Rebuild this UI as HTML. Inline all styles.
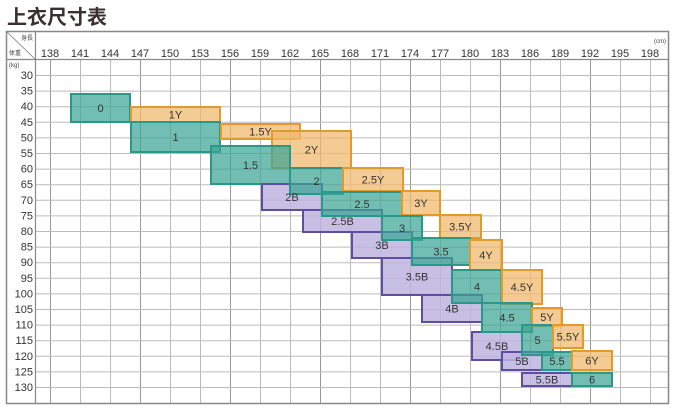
<!DOCTYPE html>
<html><head><meta charset="utf-8"><style>
body{margin:0;background:#fff;}
svg{display:block;font-family:"Liberation Sans","Noto Sans CJK SC",sans-serif;}
</style></head><body>
<svg width="674" height="414" viewBox="0 0 674 414">
<text x="7" y="24" font-size="20" font-weight="bold" fill="#3a3030" font-family="'Noto Sans CJK SC',sans-serif">上衣尺寸表</text>
<g id="grid"></g>
<rect x="6.5" y="31.5" width="662" height="372" fill="none" stroke="#888" stroke-width="1.5"/>
<line x1="6" y1="59.5" x2="669" y2="59.5" stroke="#888" stroke-width="1.2"/>
<line x1="35.5" y1="31" x2="35.5" y2="403" stroke="#888" stroke-width="1.2"/>
<line x1="7" y1="32" x2="35" y2="59" stroke="#777" stroke-width="0.8"/>
<text x="33" y="40" font-size="6" text-anchor="end" fill="#444">身長</text>
<text x="9" y="55" font-size="6" fill="#444">体重</text>
<text x="9" y="67" font-size="6" fill="#444">(kg)</text>
<text x="666" y="43" font-size="6" text-anchor="end" fill="#444">(cm)</text>
<g id="boxes"></g>
</svg>
<script>
const ns="http://www.w3.org/2000/svg";
const g=document.getElementById('grid'),b=document.getElementById('boxes');
function el(p,t,a,txt){const e=document.createElementNS(ns,t);for(const k in a)e.setAttribute(k,a[k]);if(txt!==undefined)e.textContent=txt;p.appendChild(e);return e;}
for(let i=0;i<=20;i++){const x=50+i*30;const h=138+i*3;
 el(g,'line',{x1:x+.5,y1:60,x2:x+.5,y2:403,stroke:(i%3==0?'#999':'#bbb'),'stroke-width':1});
 el(g,'text',{x:x,y:57,'font-size':11,'text-anchor':'middle',fill:'#333'},h);}
for(let i=0;i<=20;i++){const y=75+i*15.6;
 el(g,'line',{x1:35,y1:y+.5,x2:668,y2:y+.5,stroke:'#bbb','stroke-width':1});
 el(g,'text',{x:33,y:y+4,'font-size':11,'text-anchor':'end',fill:'#333'},30+i*5);}
const C={t:['rgba(60,165,150,0.72)','#2a9888'],o:['rgba(240,185,110,0.75)','#e29a2a'],p:['rgba(190,180,225,0.85)','#5e4ea0']};
const B=[
['t',71,94,130,122,'0'],['o',131,107,220,122,'1Y'],['t',131,122,220,152,'1'],
['o',221,124,300,139,'1.5Y'],['o',272,131,351,168,'2Y'],['t',211,146,290,184,'1.5'],
['p',262,184,322,210,'2B'],['t',290,168,343,194,'2'],['o',343,168,403,191,'2.5Y'],
['p',303,210,382,232,'2.5B'],['t',322,192,402,216,'2.5'],['o',402,191,440,215,'3Y'],
['p',352,232,412,258,'3B'],['t',382,216,422,240,'3'],['o',440,215,481,238,'3.5Y'],
['p',382,258,452,295,'3.5B'],['t',412,238,470,265,'3.5'],['o',470,240,502,270,'4Y'],
['p',422,295,482,322,'4B'],['t',452,270,502,303,'4'],['o',502,270,542,304,'4.5Y'],
['p',472,332,522,360,'4.5B'],['t',482,303,532,332,'4.5'],['o',532,308,562,326,'5Y'],
['p',502,352,542,370,'5B'],['t',522,325,553,355,'5'],['o',553,325,583,348,'5.5Y'],
['p',522,373,572,386,'5.5B'],['t',542,352,572,370,'5.5'],['o',572,351,612,370,'6Y'],
['t',572,373,612,386,'6']];
B.forEach(([c,x1,y1,x2,y2,l])=>{el(b,'rect',{x:x1,y:y1,width:x2-x1,height:y2-y1,fill:C[c][0],stroke:C[c][1],'stroke-width':2});});
B.forEach(([c,x1,y1,x2,y2,l])=>{el(b,'text',{x:(x1+x2)/2,y:(y1+y2)/2+4,'font-size':11,'text-anchor':'middle',fill:'#333'},l);});
</script>
</body></html>
